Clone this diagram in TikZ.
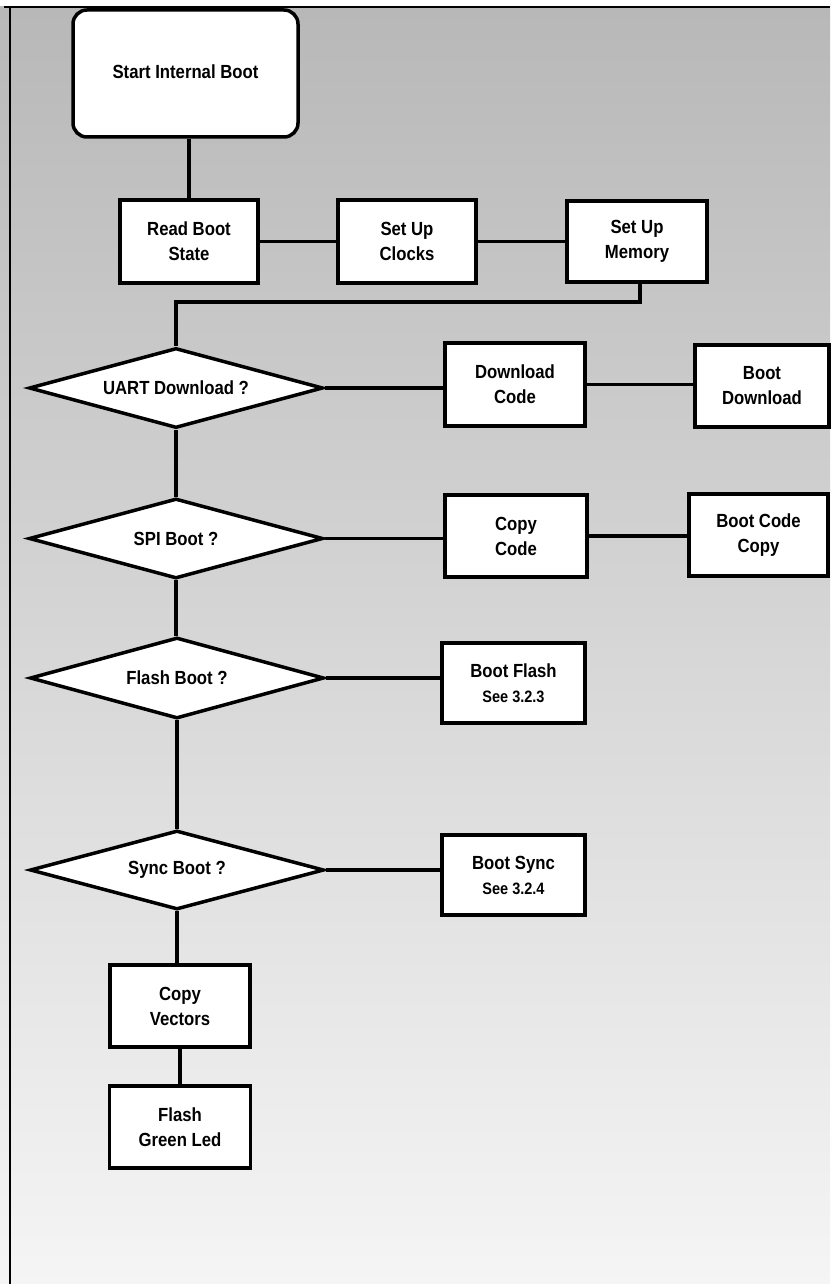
\documentclass[tikz,border=0pt]{standalone}
\usepackage{fontspec}
\setmainfont{Liberation Sans}[FakeStretch=0.88]
\usetikzlibrary{shapes.geometric}
\tikzset{
  boxnode/.style={draw=black, line width=3.5pt, fill=white, rectangle, inner sep=0pt,
    align=center, font=\fontsize{19}{25}\selectfont\bfseries},
  startnode/.style={boxnode, rounded corners=14pt},
  decnode/.style={draw=black, line width=3.5pt, fill=white, diamond, aspect=3.7, inner sep=0pt,
    minimum width=294pt, minimum height=80pt, font=\fontsize{19}{25}\selectfont\bfseries},
  conn/.style={draw=black, line width=3.5pt},
  frameline/.style={draw=black, line width=2pt}
}
\begin{document}
\begin{tikzpicture}[x=1pt,y=-1pt]
\useasboundingbox (0,0) rectangle (830,1284);
% background
\shade[top color=black!28, middle color=black!16, bottom color=black!4] (0,0) rectangle (830,1284);
\fill[white] (0,0) rectangle (830,6);
\draw[frameline] (4,7) -- (830,7);
\draw[frameline] (10,7) -- (10,1284);

% nodes
\node[startnode, minimum width=225pt, minimum height=127pt] (start) at (185.5,73.5) {\raisebox{4.5pt}{Start Internal Boot}};
\node[boxnode, minimum width=138pt, minimum height=83pt] (read) at (189,241.5) {Read Boot\\State};
\node[boxnode, minimum width=138pt, minimum height=83pt] (clocks) at (407,241.5) {Set Up\\Clocks};
\node[boxnode, minimum width=140pt, minimum height=81pt] (memory) at (637,241.5) {Set Up\\Memory};

\node[decnode] (uart) at (176,388) {UART Download ?};
\node[boxnode, minimum width=140pt, minimum height=83pt] (dlcode) at (515,384.5) {Download\\Code};
\node[boxnode, minimum width=134pt, minimum height=82pt] (bootdl) at (762,386) {Boot\\Download};

\node[decnode] (spi) at (176,538.5) {SPI Boot ?};
\node[boxnode, minimum width=142pt, minimum height=82pt] (copycode) at (516,536) {Copy\\Code};
\node[boxnode, minimum width=139pt, minimum height=82pt] (bootcc) at (758.5,535) {Boot Code\\Copy};

\node[decnode, minimum height=81pt] (flash) at (177,678) {Flash Boot ?};
\node[boxnode, minimum width=143pt, minimum height=80pt] (bootflash) at (513.5,683) {Boot Flash\\{\fontsize{16.5}{24}\selectfont See 3.2.3}};

\node[decnode, minimum height=79pt] (sync) at (177,870) {Sync Boot ?};
\node[boxnode, minimum width=143pt, minimum height=80pt] (bootsync) at (513.5,875) {Boot Sync\\{\fontsize{16.5}{24}\selectfont See 3.2.4}};

\node[boxnode, minimum width=140pt, minimum height=82pt] (vectors) at (180,1006) {Copy\\Vectors};
\node[boxnode, minimum width=141pt, minimum height=82pt] (led) at (180,1127) {Flash\\Green Led};

% connectors
\coordinate (bendR) at (640,302);
\coordinate (bendL) at (176,302);
\draw[conn] (read.north) -- (read.north |- start.south);
\draw[conn] (read.east) -- (clocks.west);
\draw[conn] (clocks.east) -- (memory.west);
\draw[conn] (memory.south -| bendR) -- (bendR) -- (bendL) -- (uart.north);
\draw[conn] (uart.east) -- (uart.east -| dlcode.west);
\draw[conn] (dlcode.east) -- (dlcode.east -| bootdl.west);
\draw[conn] (uart.south) -- (spi.north);
\draw[conn] (spi.east) -- (spi.east -| copycode.west);
\draw[conn] (copycode.east) -- (copycode.east -| bootcc.west);
\draw[conn] (spi.south) -- (spi.south |- flash.north);
\draw[conn] (flash.east) -- (flash.east -| bootflash.west);
\draw[conn] (flash.south) -- (sync.north);
\draw[conn] (sync.east) -- (sync.east -| bootsync.west);
\draw[conn] (sync.south) -- (sync.south |- vectors.north);
\draw[conn] (vectors.south) -- (led.north);
\end{tikzpicture}
\end{document}
